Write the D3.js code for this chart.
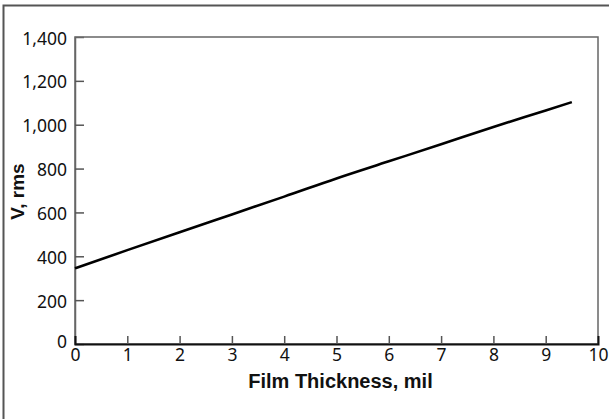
<!DOCTYPE html>
<html lang="en">
<head>
    <meta charset="UTF-8">
    <title>V rms vs Film Thickness</title>
    <script src="https://d3js.org/d3.v7.min.js"></script>
    <style>
        body { margin: 0; background: #fff; }
        .axis-title { font-family: "Liberation Sans", Arial, sans-serif; font-weight: bold; font-size: 20px; fill: #111; }
    </style>
</head>
<body>
    <script>
        // Data
        const thickness = [0, 1, 2, 3, 4, 5, 6, 7, 8, 9, 9.5];
        const voltage = [345, 428, 510, 591, 672, 755, 833, 911, 990, 1065, 1103];
        const xTicks = [0, 1, 2, 3, 4, 5, 6, 7, 8, 9, 10];
        const yTicks = [0, 200, 400, 600, 800, 1000, 1200, 1400];

        const width = 609;
        const height = 419;
        const margin = { top: 37, right: 11, bottom: 75, left: 75 };

        const svg = d3.select('body').append('svg')
            .attr('width', width)
            .attr('height', height);

        // outer frame (top and left only)
        svg.append('path')
            .attr('d', 'M3.5,419V5.5H609')
            .attr('fill', 'none')
            .attr('stroke', '#555')
            .attr('stroke-width', 2);

        const x = d3.scaleLinear().domain([0, 10]).range([margin.left, width - margin.right]);
        const y = d3.scaleLinear().domain([0, 1400]).range([height - margin.bottom, margin.top]);

        // plot box
        svg.append('rect')
            .attr('x', x(0)).attr('y', y(1400))
            .attr('width', x(10) - x(0)).attr('height', y(0) - y(1400))
            .attr('fill', 'none')
            .attr('stroke', '#666')
            .attr('stroke-width', 1.5);

        // y axis
        const yAxis = svg.append('g')
            .attr('transform', `translate(${x(0)},0)`)
            .call(d3.axisLeft(y).tickValues(yTicks).tickFormat(d3.format(',')).tickSize(-9).tickPadding(8))
            .attr('font-family', 'Noto Sans, sans-serif')
            .attr('font-size', 17.5);
        yAxis.select('.domain').attr('stroke', '#666').attr('stroke-width', 1.5);
        yAxis.selectAll('.tick line').attr('stroke', '#555').attr('stroke-width', 1.5)
            .filter(d => d === 0 || d === 1400).remove();
        yAxis.selectAll('.tick text').attr('fill', '#111').attr('dy', '0.4em')
            .filter(d => d === 0).attr('dy', '0.2em');

        // x axis
        const xAxis = svg.append('g')
            .attr('transform', `translate(0,${y(0)})`)
            .call(d3.axisBottom(x).tickValues(xTicks).tickSize(-8).tickPadding(5))
            .attr('font-family', 'Noto Sans, sans-serif')
            .attr('font-size', 17.5);
        xAxis.select('.domain').attr('stroke', '#111').attr('stroke-width', 2);
        xAxis.selectAll('.tick text').attr('fill', '#111');
        xAxis.selectAll('.tick line').attr('stroke', '#555').attr('stroke-width', 1.5)
            .filter(d => d === 0 || d === 10).remove();

        // curve
        const line = d3.line()
            .x((d, i) => x(thickness[i]))
            .y(d => y(d))
            .curve(d3.curveMonotoneX);
        svg.append('path')
            .datum(voltage)
            .attr('d', line)
            .attr('fill', 'none')
            .attr('stroke', '#000')
            .attr('stroke-width', 2.6);

        // axis titles
        svg.append('text')
            .attr('class', 'axis-title')
            .attr('x', (x(0) + x(10)) / 2 + 4)
            .attr('y', 388)
            .attr('text-anchor', 'middle')
            .text('Film Thickness, mil');

        svg.append('text')
            .attr('class', 'axis-title')
            .attr('font-size', 19)
            .style('font-size', '19px')
            .attr('transform', `translate(24,${(y(0) + y(1400)) / 2 + 1}) rotate(-90)`)
            .attr('text-anchor', 'middle')
            .text('V, rms');
    </script>
</body>
</html>
